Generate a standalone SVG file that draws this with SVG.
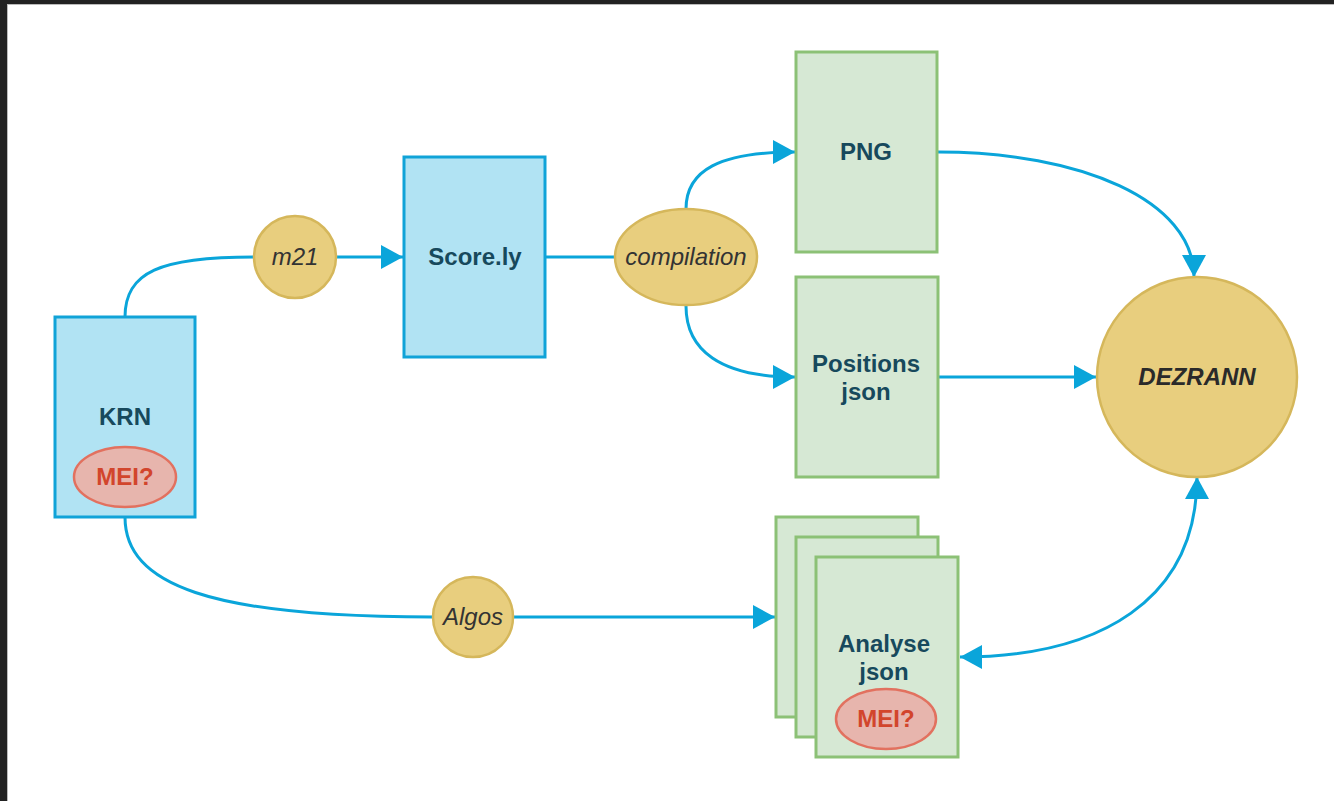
<svg xmlns="http://www.w3.org/2000/svg" width="1334" height="801" viewBox="0 0 1334 801">
<style>
.blue{fill:#b1e3f3;stroke:#10a3d8;stroke-width:3}
.green{fill:#d6e8d4;stroke:#8cc176;stroke-width:3}
.yel{fill:#e8ce7e;stroke:#d5b75b;stroke-width:2.5}
.red{fill:#e7b5ad;stroke:#e2715f;stroke-width:2.5}
.conn{fill:none;stroke:#0aa5da;stroke-width:3}
.t{font-family:"Liberation Sans",Arial,sans-serif;font-size:24px;font-weight:bold;fill:#17495c;text-anchor:middle}
.ti{font-family:"Liberation Sans",Arial,sans-serif;font-size:24px;font-style:italic;fill:#333333;text-anchor:middle}
.tr{font-family:"Liberation Sans",Arial,sans-serif;font-size:24px;font-weight:bold;fill:#d2452c;text-anchor:middle}
</style>
<defs>
<marker id="arr" viewBox="0 0 22 24" refX="22" refY="12" markerWidth="22" markerHeight="24" markerUnits="userSpaceOnUse" orient="auto-start-reverse">
<path d="M0,0 L22,12 L0,24 z" fill="#0aa5da"/>
</marker>
</defs>
<rect x="0" y="0" width="1334" height="801" fill="#ffffff"/>
<rect x="0" y="0" width="1334" height="4" fill="#222222"/>
<rect x="0" y="0" width="7" height="801" fill="#222222"/>
<rect x="7" y="4" width="1327" height="1" fill="#bbbbbb"/>
<rect x="7" y="4" width="1" height="797" fill="#bbbbbb"/>

<g id="connectors">
<path class="conn" d="M125 317 C125 272 160 257 254 257"/>
<path class="conn" d="M336 257 L403 257" marker-end="url(#arr)"/>
<path class="conn" d="M545 257 L615 257"/>
<path class="conn" d="M686 209 C686 170 720 152 795 152" marker-end="url(#arr)"/>
<path class="conn" d="M686 306 C686 350 720 377 795 377" marker-end="url(#arr)"/>
<path class="conn" d="M938 152 C1080 152 1194 200 1194 277" marker-end="url(#arr)"/>
<path class="conn" d="M939 377 L1096 377" marker-end="url(#arr)"/>
<path class="conn" d="M125 517 C125 585 210 617 433 617"/>
<path class="conn" d="M514 617 L775 617" marker-end="url(#arr)"/>
<path class="conn" d="M1197 477 C1197 600 1100 657 960 657" marker-start="url(#arr)" marker-end="url(#arr)"/>
</g>

<g id="krn">
<rect class="blue" x="55" y="317" width="140" height="200"/>
<text class="t" x="125" y="425">KRN</text>
<ellipse class="red" cx="125" cy="477" rx="51" ry="30"/>
<text class="tr" x="125" y="485">MEI?</text>
</g>

<g id="m21">
<circle class="yel" cx="295" cy="257" r="41"/>
<text class="ti" x="295" y="265">m21</text>
</g>

<g id="score">
<rect class="blue" x="404" y="157" width="141" height="200"/>
<text class="t" x="475" y="265">Score.ly</text>
</g>

<g id="compilation">
<ellipse class="yel" cx="686" cy="257" rx="71" ry="48"/>
<text class="ti" x="686" y="265">compilation</text>
</g>

<g id="png">
<rect class="green" x="796" y="52" width="141" height="200"/>
<text class="t" x="866" y="160">PNG</text>
</g>

<g id="positions">
<rect class="green" x="796" y="277" width="142" height="200"/>
<text class="t" x="866" y="372">Positions</text>
<text class="t" x="866" y="400">json</text>
</g>

<g id="dezrann">
<circle class="yel" cx="1197" cy="377" r="100"/>
<text class="ti" x="1197" y="385" font-weight="bold" style="fill:#2a2a2a">DEZRANN</text>
</g>

<g id="algos">
<circle class="yel" cx="473" cy="617" r="40"/>
<text class="ti" x="473" y="625">Algos</text>
</g>

<g id="analyse">
<rect class="green" x="776" y="517" width="142" height="200"/>
<rect class="green" x="796" y="537" width="142" height="200"/>
<rect class="green" x="816" y="557" width="142" height="200"/>
<text class="t" x="884" y="652">Analyse</text>
<text class="t" x="884" y="680">json</text>
<ellipse class="red" cx="886" cy="719" rx="50" ry="30"/>
<text class="tr" x="886" y="727">MEI?</text>
</g>
</svg>
